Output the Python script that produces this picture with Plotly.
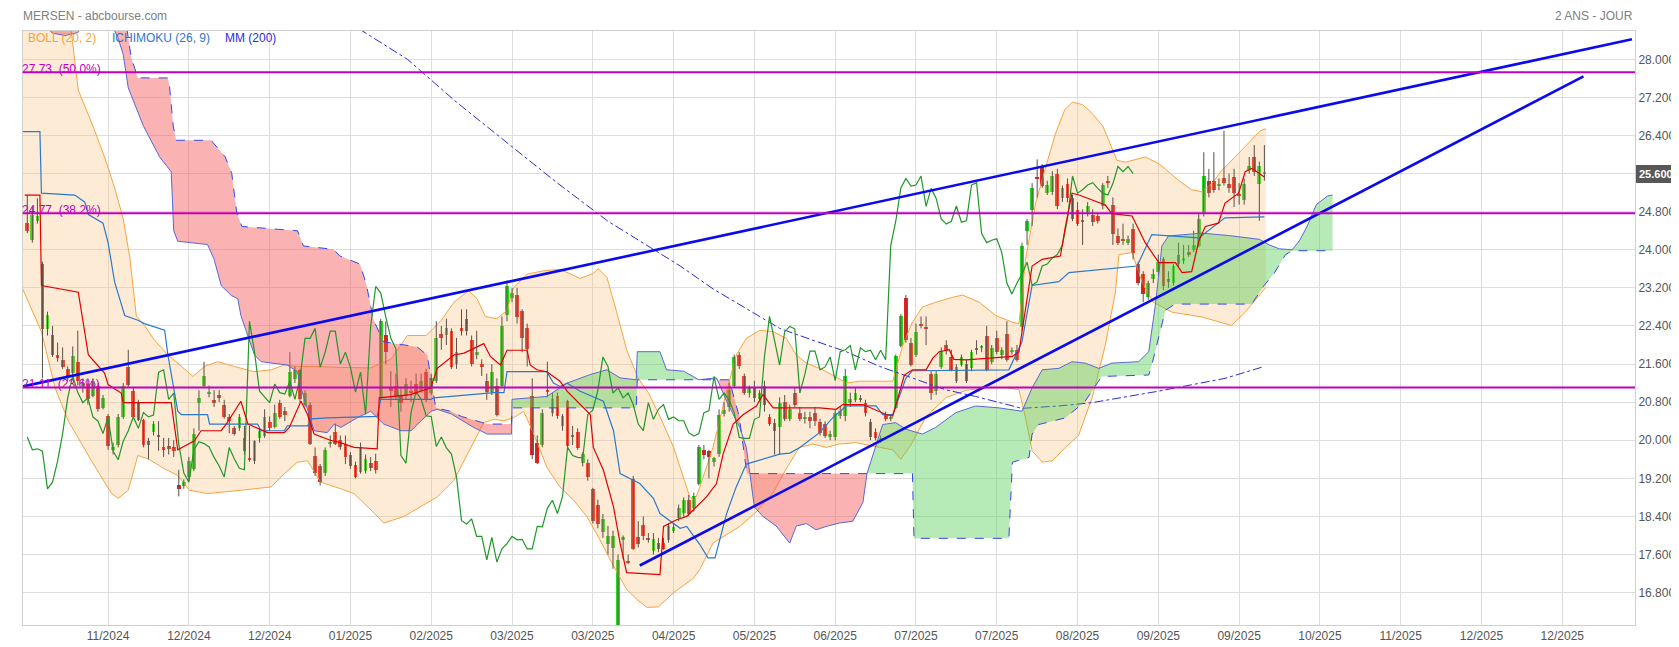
import plotly.graph_objects as go

# ---------------- candles (index = trading day) ----------------
opens = [24.56,24.20,24.60,23.70,22.34,22.21,21.79,21.69,21.50,21.41,
21.64,21.15,21.18,20.92,21.13,20.68,20.50,19.79,19.89,20.49,
21.53,21.04,20.79,20.43,19.99,20.18,20.08,19.85,19.87,19.85,
19.07,19.03,19.23,19.39,20.79,21.13,20.99,20.84,20.94,20.75,
20.49,20.25,20.25,20.04,19.60,19.56,20.04,20.08,20.39,20.28,
20.79,20.61,20.92,21.28,21.48,20.75,20.75,19.66,19.45,19.31,
19.92,20.18,20.00,19.92,19.68,19.49,19.33,19.35,19.52,19.56,
20.89,22.21,21.10,21.13,20.92,20.92,21.02,21.18,21.03,21.43,
21.00,21.24,22.24,22.21,22.29,21.60,22.35,22.54,22.10,21.80,
21.60,21.25,21.01,21.13,21.15,22.64,22.98,23.06,22.71,22.35,
20.92,19.95,19.89,21.03,20.58,20.92,20.29,20.82,20.08,20.18,
19.52,19.52,18.98,18.64,18.08,17.83,17.74,15.15,17.90,17.45,
19.19,17.96,18.22,17.94,17.67,17.85,17.85,17.90,18.10,18.36,
18.48,18.75,18.58,19.09,19.80,19.78,19.54,19.71,20.55,20.70,
21.13,21.79,21.35,20.99,21.10,20.86,21.13,20.49,20.37,20.28,
20.80,20.45,20.99,20.58,20.44,20.49,20.58,20.39,20.34,20.06,
20.07,20.51,20.51,20.79,20.84,20.89,20.79,20.39,20.18,19.99,
20.56,20.44,20.68,21.99,22.99,22.05,21.79,22.45,22.35,21.39,
21.04,21.53,22.00,21.75,21.25,21.58,21.60,21.51,21.92,21.94,
22.19,21.65,22.14,21.79,22.24,21.86,21.89,22.38,24.39,24.84,
25.52,25.74,25.20,25.22,25.60,25.08,25.39,25.08,24.84,24.62,
24.78,24.74,24.70,24.91,25.44,24.94,24.30,24.23,24.15,24.44,
23.70,23.49,23.00,23.38,23.54,23.80,23.38,23.31,23.90,23.77,
23.95,24.00,24.09,24.78,25.44,25.44,25.35,25.50,25.39,25.53,
25.18,25.05,25.68,25.95,25.39,25.60]
closes = [24.40,24.74,24.70,22.34,22.64,21.79,21.73,21.53,21.33,21.78,
21.24,21.20,20.86,21.25,20.65,20.89,19.87,19.86,20.49,21.13,
21.17,20.49,20.43,19.89,19.89,20.34,20.07,19.80,19.82,19.77,
18.98,19.12,19.56,20.14,20.89,21.35,21.00,20.79,20.89,20.49,
20.40,20.14,20.49,19.77,19.59,19.98,20.20,20.49,20.25,20.58,
20.49,20.53,21.43,21.48,20.86,20.99,19.92,19.31,19.12,19.80,
19.97,19.93,19.86,19.64,19.46,19.23,19.85,19.61,19.41,19.38,
22.50,21.85,21.03,20.92,20.79,21.18,21.00,20.97,21.24,20.86,
21.30,22.14,22.14,22.35,21.53,21.85,22.29,22.29,21.60,21.85,
21.53,21.01,21.43,20.54,22.39,23.23,23.09,22.59,22.14,21.92,
19.68,19.52,20.58,21.02,20.86,20.51,20.50,19.87,20.07,19.84,
19.71,19.23,18.31,18.24,18.35,17.98,17.98,17.49,17.96,17.44,
17.72,17.83,17.98,17.91,17.92,17.72,17.72,18.19,18.18,18.57,
18.74,18.46,18.82,19.85,19.68,19.64,19.63,20.54,20.63,21.05,
21.75,21.55,20.99,21.10,20.89,20.99,20.75,20.34,20.20,20.79,
20.44,20.65,20.75,20.44,20.49,20.41,20.41,20.16,20.09,20.14,
20.58,20.62,21.34,20.86,20.99,20.84,20.58,20.06,20.04,20.04,
20.44,20.49,21.76,22.60,22.10,21.58,22.28,22.39,22.34,20.99,
21.39,21.87,21.87,21.48,21.54,21.75,21.25,21.86,21.90,21.99,
21.48,21.94,21.86,21.89,21.69,21.89,21.69,24.09,24.60,25.30,
25.50,25.34,25.36,25.55,24.91,25.29,25.08,24.65,24.54,24.60,
24.92,24.58,24.61,25.36,25.41,24.34,24.15,24.20,24.23,23.94,
23.30,23.07,23.30,23.49,23.74,23.25,23.33,23.66,23.70,23.83,
23.90,24.10,24.65,25.55,25.19,25.26,25.36,25.41,25.29,25.19,
25.15,25.39,25.75,25.64,25.75,25.60]
highs = [25.15,24.90,25.08,23.75,22.70,22.40,22.05,21.95,21.55,21.97,
22.30,21.30,21.30,21.30,21.20,20.95,20.55,19.95,20.55,21.20,
21.90,21.10,20.85,20.45,20.05,20.40,20.40,20.05,20.05,20.00,
19.38,19.18,19.65,20.25,21.05,21.65,21.15,21.05,21.05,20.85,
20.55,20.30,20.55,20.30,20.30,20.00,20.25,20.65,20.50,20.75,
20.85,20.70,21.85,21.55,21.50,21.05,20.80,19.85,19.50,19.85,
20.10,20.35,20.10,20.10,19.75,19.55,19.95,19.70,19.65,19.72,
22.55,22.50,21.45,21.40,21.10,21.30,21.25,21.40,21.40,21.50,
21.40,22.50,22.40,22.55,22.35,22.15,22.75,22.75,22.20,22.30,
21.70,21.40,21.60,21.30,22.60,23.35,23.20,23.20,22.75,22.45,
21.30,20.10,20.65,21.65,21.00,21.00,20.55,20.85,20.30,20.25,
19.75,19.60,19.00,18.75,18.45,18.20,18.10,17.60,18.00,17.60,
19.25,18.30,18.40,18.05,18.05,17.95,17.95,18.25,18.25,18.65,
18.80,18.85,18.90,19.90,19.90,19.80,19.65,20.65,20.80,21.20,
21.80,21.85,21.40,21.15,21.25,21.05,21.25,20.55,20.45,20.90,
20.95,20.75,21.10,20.70,20.60,20.60,20.70,20.45,20.40,20.20,
20.65,20.70,21.50,21.00,21.10,20.95,20.85,20.45,20.25,20.10,
20.60,20.55,21.80,22.65,23.05,22.15,22.45,22.60,22.60,21.45,
21.45,21.95,22.10,21.90,21.60,21.80,21.70,21.90,22.10,22.00,
22.40,22.00,22.30,21.95,22.50,21.95,22.00,24.15,24.65,25.40,
25.90,25.80,25.45,25.65,25.70,25.35,25.50,25.15,25.00,24.85,
25.00,24.85,24.75,25.40,25.55,25.10,24.45,24.55,24.30,24.55,
23.75,23.55,23.35,23.60,23.90,23.85,23.55,23.70,24.15,24.10,
24.10,24.40,24.75,26.05,25.70,26.05,25.50,26.50,25.60,25.70,
25.40,25.50,25.95,26.20,25.85,26.20]
lows = [24.35,24.15,24.55,21.30,22.20,21.75,21.65,21.50,21.25,21.35,
21.15,21.00,20.75,20.90,20.60,20.65,19.80,19.70,19.85,20.45,
21.10,20.45,20.40,19.85,19.60,20.10,19.78,19.65,19.70,19.65,
18.82,18.98,19.15,19.35,20.20,21.10,20.90,20.70,20.80,20.45,
20.15,20.10,20.20,19.70,19.55,19.50,19.95,20.05,20.20,20.25,
20.45,20.40,20.90,21.20,20.80,20.70,19.90,19.25,19.05,19.25,
19.85,19.90,19.80,19.50,19.40,19.20,19.30,19.30,19.35,19.30,
20.85,21.60,20.70,20.85,20.60,20.85,20.80,20.95,21.00,20.80,
20.95,21.20,21.90,22.00,21.50,21.50,22.20,22.20,21.55,21.70,
21.35,20.85,20.95,20.50,21.10,22.50,22.90,22.45,21.85,21.55,
19.60,19.50,19.85,20.90,20.50,20.45,20.20,19.80,19.90,19.80,
19.45,19.15,18.25,18.15,17.95,17.60,17.30,15.10,17.50,17.40,
17.70,17.75,17.90,17.85,17.60,17.65,17.70,17.85,18.05,18.30,
18.40,18.40,18.50,19.05,19.60,19.20,19.45,19.65,20.50,20.60,
21.10,21.50,20.95,20.90,20.80,20.80,20.60,20.30,19.70,19.70,
20.40,20.40,20.70,20.40,20.35,20.25,20.30,20.10,20.05,20.00,
20.00,20.45,20.40,20.70,20.80,20.80,20.50,20.00,20.00,19.95,
20.40,20.40,20.65,21.95,22.05,21.55,21.75,22.35,22.00,20.85,
20.95,21.50,21.80,21.45,21.20,21.55,21.20,21.45,21.80,21.85,
21.45,21.60,21.80,21.70,21.65,21.80,21.65,22.30,24.10,24.50,
25.10,25.30,25.15,25.15,24.85,25.00,25.00,24.60,24.50,24.10,
24.70,24.50,24.55,24.85,25.30,24.10,24.10,24.10,24.10,23.80,
23.25,22.90,22.95,23.30,23.45,23.15,23.20,23.25,23.65,23.70,
23.85,23.95,24.05,24.70,25.10,25.20,25.25,25.35,25.20,24.90,
24.95,24.95,25.60,25.55,24.61,25.45]

# ---------------- axis labels ----------------
tick_pos = [16,32,48,64,80,96,112,128,144,160,176,192,208,224,240,256,272,288,304]
tick_labels = ["11/2024","12/2024","12/2024","01/2025","02/2025","03/2025","03/2025",
               "04/2025","05/2025","06/2025","07/2025","07/2025","08/2025","09/2025",
               "09/2025","10/2025","11/2025","12/2025","12/2025"]
y_ticks = [16.8,17.6,18.4,19.2,20.0,20.8,21.6,22.4,23.2,24.0,24.8,25.6,26.4,27.2,28.0]
last_price = 25.60

# ---------------- Bollinger (20,2) ----------------
bb_up_x = [-1,8.7,10.1,13,15.3,17.3,19,20.3,21.6,23.2,25.2,27.9,30.2,32.8,35.1,37.7,41,44.9,48.3,50.9,
53.5,57,62,68,72,75.3,79,82,84.5,87.4,89.1,90.7,93,95,96.3,99,102.3,105.5,109.5,112,
113.1,114.8,116.7,118.7,121,123,125.3,128,131.2,132.2,133.2,135.8,138.5,140.4,142.4,145.1,147.7,150.3,152.3,154.3,
156.9,159.5,162.2,164.8,168.8,171.4,173.4,175.3,177.3,180,183.2,185.2,188.5,191.8,195.1,196.4,197.7,199.7,201.7,203.6,
205.5,207,209,211,213,214.2,215.8,217.5,221.4,224.1,228,230.6,232.6,234.6,236.6,239.2,241.8,244.2,245.3]
bb_up_y = [29.8,28.6,27.35,26.6,25.95,25.3,24.65,23.84,22.6,22.41,22.10,21.79,21.58,21.34,21.55,21.65,21.55,21.44,21.48,21.58,
21.55,21.55,21.53,21.52,21.7,22.2,22.2,22.52,22.9,23.14,22.97,22.6,22.55,22.73,23.2,23.49,23.56,23.59,23.4,23.5,
23.6,23.42,22.7,21.9,21.3,21.0,20.5,19.85,18.81,18.74,19.02,19.85,21.03,21.79,22.14,22.31,22.28,22.14,21.79,21.62,
21.51,21.37,21.2,21.24,21.24,21.24,22.0,22.48,22.8,22.9,23.0,23.05,22.9,22.62,22.48,22.45,23.8,24.98,25.74,26.43,
26.95,27.1,27.05,26.85,26.6,26.3,25.88,25.84,25.95,25.81,25.46,25.26,25.22,25.39,25.67,25.95,26.23,26.5,26.54]
bb_lo_x = [-1,2.8,5.5,8.1,12.7,16.7,18,20,21.9,23.9,27.2,29.8,32.1,35.7,42.3,48.3,50.9,53.5,55.5,58.1,
62.1,64.7,68.7,70.6,74.6,77.9,81.2,84.5,86.5,88.4,90.4,92.4,94.4,96.3,98.3,100.3,102.9,105.5,108.2,110.8,
113.4,116.1,118.7,120.7,122.7,125,128,131.9,133.2,135.8,141.1,144.4,147.7,150.3,152.9,155.6,158.2,160.8,164.1,168.8,
171.4,173,175,178,182,186,190,194,196.4,197.7,199,201,203,205.6,208.2,210.9,213.5,215.5,216.2,218.8,
220.8,223,226.7,232.6,238.5,241.2,245.3]
bb_lo_y = [23.2,22.28,21.1,20.41,19.57,18.88,18.78,18.95,19.68,19.61,19.40,19.26,18.95,18.88,18.95,19.02,19.3,19.54,19.57,19.12,
18.98,18.88,18.47,18.26,18.40,18.60,18.81,19.16,19.57,19.99,20.37,20.44,20.41,20.47,20.61,20.13,19.43,19.02,18.74,18.40,
17.91,17.36,16.87,16.66,16.49,16.5,16.8,17.1,17.29,17.84,18.19,18.5,18.9,19.4,19.85,19.92,19.85,19.92,19.95,19.85,
19.8,19.6,19.9,20.5,20.9,21.05,21.1,21.1,21.06,20.47,19.78,19.54,19.57,19.85,20.1,20.9,22.0,23.11,23.9,23.94,
23.31,22.9,22.69,22.59,22.41,22.69,23.21]

# ---------------- Ichimoku (26, 9) ----------------
tenkan_x = [-0.5,2.5,2.8,10.1,12.1,15.3,16,18.6,19,28.5,29.8,33.1,34.4,38.4,39.4,42.3,43.7,47.6,50.9,51.9,
54.2,55.5,56.8,60,62,64.7,69.3,69.7,75.9,79.9,81.2,84.5,86.5,88.4,90.4,91.7,93.7,95,99,99.6,
100.9,102.9,105.5,106.9,109.5,111.5,112.1,114.1,116.1,117.4,118.7,125.3,126,128.6,130.6,132.5,134.5,136.5,137.8,139.8,
141.8,144.4,145.7,147.7,156.9,160.2,161.5,165.5,170.1,171.4,173.7,175.3,178,179.3,180.6,182.6,183.5,186,195.1,196.4,
199,201,204.6,205.6,206.9,208.3,213.5,214.8,218.8,221.4,224.1,227.4,228.7,230.6,232,233.3,235.9,237.2,239.9,241.2,
242.5,245]
tenkan_y = [25.15,25.15,23.25,23.11,21.79,21.41,21.17,20.99,20.79,20.79,19.8,19.99,20.2,20.2,20.34,20.82,20.34,20.16,20.16,20.27,
20.82,20.54,20.13,20.0,19.95,19.85,19.82,20.89,20.96,21.1,21.51,21.79,21.83,21.93,22.03,21.76,21.58,21.89,21.89,21.58,
21.48,21.44,21.24,21.03,20.75,20.54,19.85,19.37,18.6,17.84,17.22,17.18,18.19,18.33,18.4,18.6,18.81,19.09,19.71,20.34,
20.54,20.72,20.96,20.68,20.68,20.65,20.75,20.75,20.54,20.51,21.37,21.48,21.48,21.72,21.86,21.9,21.7,21.69,21.76,21.86,
23.66,23.8,23.87,24.49,25.19,25.15,24.94,24.76,24.71,24.15,23.73,23.73,23.52,23.54,24.18,24.49,24.56,24.98,25.19,25.64,
25.71,25.53]
kijun_x = [-1,2.5,2.8,9.4,11.4,12.1,15,16,17.3,19.3,21.9,23.2,27.2,27.85,29.8,30.5,35.7,36.1,45.6,46.3,
50.9,51.5,55.5,56.2,59.5,69.3,70,79.9,80.5,92.4,94.4,95,102.9,104.2,105.5,106.9,109.5,114.1,116.1,117.4,
121.3,124,125.3,129.3,130.6,133.2,134.8,136.2,138.5,140.4,142.4,147.7,149,151,153,156.9,159.5,162.2,168.1,169.4,
171.4,174,175.3,194.4,197,199,204.3,206.3,219.8,222.7,232,237.2,245]
kijun_y = [26.48,26.48,25.19,25.15,25.0,24.74,24.56,24.15,23.32,22.62,22.52,22.45,22.31,21.79,20.61,20.54,20.54,20.34,20.34,20.2,
20.2,20.3,20.3,20.45,20.47,20.5,20.86,20.86,20.89,21.0,21.0,21.44,21.44,21.2,21.13,21.2,21.03,20.82,20.2,19.3,
19.09,18.78,18.46,18.15,18.19,17.81,17.53,17.53,18.46,19.02,19.5,19.68,19.71,19.73,19.85,20.16,20.47,20.72,20.72,20.54,
20.54,21.3,21.46,21.48,22.07,23.25,23.33,23.52,23.66,24.32,24.25,24.67,24.69]
chikou_shift = 26

span_a_x = [-1,3,5,7.5,10,11,13,17.3,18,19,20,23,26.2,28.5,29.0,29.8,35.7,37,38.4,40.4,
41.7,42.3,45,46.3,51.5,53.5,54.2,55.8,56.8,59.4,60.8,62.1,65.3,68,69.3,70.6,74,76,78,80,
81.2,84,88.4,91.1,95.9,96.0,102.9,106.9,111.5,114.8,117.4,120.6,120.8,125.3,126.6,130,133.0,136.5,138.5,141.1,
142.4,143.1,144,145.7,148.3,151,152.3,154.3,156.2,158.2,160.8,163.5,165.5,166.3,168.7,169.4,172,174,177.3,179.9,
183.9,187.8,192.4,197,199,201,204.3,206.9,209.5,212.2,214.8,220.1,222.1,223.4,224.7,226,232.6,237.9,244,246,
248,250.5,252,253.5,255.3,257.5,258.5]
span_a_y = [29.3,28.75,28.55,28.5,28.56,28.7,28.9,28.6,28.44,28.1,27.4,26.6,25.95,25.64,24.4,24.18,24.11,23.8,23.25,23.04,
22.97,22.62,21.79,21.65,21.58,21.44,21.1,20.54,20.2,20.16,20.34,20.27,20.47,20.61,20.47,20.34,20.2,20.2,20.41,20.61,
20.65,20.55,20.27,20.13,20.13,20.86,20.92,21.2,21.38,21.48,21.31,21.27,21.86,21.86,21.48,21.45,21.27,21.31,20.82,20.27,
19.85,19.3,18.6,18.4,18.2,17.84,18.2,18.25,18.12,18.19,18.26,18.3,18.7,19.3,20.13,20.33,20.37,20.23,20.13,20.27,
20.58,20.72,20.68,20.61,21.10,21.48,21.51,21.65,21.62,21.51,21.62,21.65,21.86,22.83,24.08,24.29,24.35,24.3,24.22,24.1,
24.02,24.0,24.2,24.5,24.95,25.13,25.15]
span_b_x = [-1,14,19.5,20.6,21.9,27.85,28.2,28.9,29.5,36.4,39.2,40.5,41.5,42.5,53.5,54.7,60.6,61.9,65.9,67.2,
68.5,70.5,77.2,79.2,80.9,83.8,86,91.1,95.9,96.0,120.6,120.8,133.0,139,141,142.5,166.3,175.3,175.6,194.4,
195.1,198.4,199,200.3,205.6,209.5,212.8,222.1,222.7,224.7,225.4,227.3,242.5,244.8,246.9,249.2,250.5,258.5]
span_b_y = [29.5,29.5,28.8,28.03,27.61,27.61,27.4,26.6,26.3,26.3,25.95,25.6,24.77,24.49,24.4,24.08,24.01,23.87,23.7,23.25,
22.55,22.07,21.96,21.79,20.68,20.61,20.5,20.34,20.34,20.68,20.68,21.27,21.27,21.27,20.5,19.3,19.3,19.3,17.94,17.94,
19.54,19.64,20.13,20.33,20.47,20.82,21.34,21.37,21.58,22.41,22.73,22.86,22.86,23.23,23.5,23.9,23.98,23.98]
# cloud regions between crossings: (start, end, bullish?)
cloud_regions = [(-1, 95.9, False), (96.0, 133.0, True), (133.0, 166.3, False), (166.3, 258.5, True)]

# ---------------- MM 200 ----------------
mm200_x = [60,66,75.3,85,95,105,115,121,126,129.3,135.8,142.4,149,155.6,162.2,168.8,175.3,181.9,187.8,197,
204.3,210.9,224,237.2,245]
mm200_y = [29.1,28.62,28.0,27.1,26.25,25.4,24.6,24.2,23.87,23.66,23.18,22.76,22.35,22.1,21.86,21.55,21.3,21.06,20.92,20.67,
20.72,20.79,21.03,21.3,21.55]

# ---------------- drawn objects ----------------
fib_levels = [27.73, 24.77, 21.11]
fib_labels = ["27.73\u00a0\u00a0(50.0%)", "24.77\u00a0\u00a0(38.2%)", "21.11\u00a0\u00a0(23.6%)"]
trend_up_x = [-0.85, 317.8]
trend_up_y = [21.13, 28.42]
trend_lo_x = [121.3, 308.2]
trend_lo_y = [17.37, 27.64]

FONT = "Liberation Sans, Arial, sans-serif"
GREEN = "#1fdc1f"
RED = "#f01e1e"

fig = go.Figure()

# Bollinger band
fig.add_trace(go.Scatter(x=bb_lo_x, y=bb_lo_y, mode="lines", line=dict(color="#f7a540", width=1),
                         hoverinfo="skip", showlegend=False))
fig.add_trace(go.Scatter(x=bb_up_x, y=bb_up_y, mode="lines", line=dict(color="#f7a540", width=1),
                         fill="tonexty", fillcolor="rgba(250,190,120,0.30)", hoverinfo="skip", showlegend=False))

# MM200
fig.add_trace(go.Scatter(x=mm200_x, y=mm200_y, mode="lines", line=dict(color="#2b2bdc", width=1, dash="dashdot"),
                         hoverinfo="skip", showlegend=False))

# candles: wicks then bodies
n = len(closes)
idx = list(range(n))
wx, wy = [], []
for i in idx:
    wx += [i, i, None]
    wy += [lows[i], highs[i], None]
fig.add_trace(go.Scatter(x=wx, y=wy, mode="lines", line=dict(color="#5a4f45", width=1),
                         hoverinfo="skip", showlegend=False))
bases = [min(o, c) for o, c in zip(opens, closes)]
heights = [max(abs(c - o), 0.025) for o, c in zip(opens, closes)]
colors = [GREEN if c >= o else RED for o, c in zip(opens, closes)]
fig.add_trace(go.Bar(x=idx, y=heights, base=bases, width=0.74, marker=dict(color=colors, line=dict(width=0)),
                     hoverinfo="skip", showlegend=False))

# Ichimoku cloud fills (drawn over candles, translucent)
for x0, x1, bull in cloud_regions:
    ax = [x for x in span_a_x if x0 <= x <= x1]
    ay = [y for x, y in zip(span_a_x, span_a_y) if x0 <= x <= x1]
    bx = [x for x in span_b_x if x0 <= x <= x1]
    by = [y for x, y in zip(span_b_x, span_b_y) if x0 <= x <= x1]
    fig.add_trace(go.Scatter(x=ax + bx[::-1], y=ay + by[::-1], mode="lines", line=dict(width=0),
                             fill="toself",
                             fillcolor="rgba(80,205,80,0.42)" if bull else "rgba(245,85,85,0.45)",
                             hoverinfo="skip", showlegend=False))
fig.add_trace(go.Scatter(x=span_a_x, y=span_a_y, mode="lines", line=dict(color="#5a68d6", width=1),
                         hoverinfo="skip", showlegend=False))
fig.add_trace(go.Scatter(x=span_b_x, y=span_b_y, mode="lines", line=dict(color="#3448ee", width=1, dash="dash"),
                         hoverinfo="skip", showlegend=False))

# chikou, kijun, tenkan
fig.add_trace(go.Scatter(x=[i - chikou_shift for i in idx[chikou_shift:]], y=closes[chikou_shift:], mode="lines",
                         line=dict(color="#21972a", width=1.2), hoverinfo="skip", showlegend=False))
fig.add_trace(go.Scatter(x=kijun_x, y=kijun_y, mode="lines", line=dict(color="#2a7acb", width=1.2),
                         hoverinfo="skip", showlegend=False))
fig.add_trace(go.Scatter(x=tenkan_x, y=tenkan_y, mode="lines", line=dict(color="#e00000", width=1.2),
                         hoverinfo="skip", showlegend=False))

# trend lines
fig.add_trace(go.Scatter(x=trend_up_x, y=trend_up_y, mode="lines", line=dict(color="#0a0af0", width=2.6),
                         hoverinfo="skip", showlegend=False))
fig.add_trace(go.Scatter(x=trend_lo_x, y=trend_lo_y, mode="lines", line=dict(color="#0a0af0", width=2.6),
                         hoverinfo="skip", showlegend=False))

shapes = []
annotations = []
for lvl, lab in zip(fib_levels, fib_labels):
    shapes.append(dict(type="line", xref="paper", x0=0, x1=1, yref="y", y0=lvl, y1=lvl,
                       line=dict(color="#c000c0", width=2), layer="above"))
    annotations.append(dict(xref="paper", x=0, xanchor="left", xshift=-2, yref="y", y=lvl, yanchor="bottom",
                            yshift=-5, text=lab, showarrow=False, borderpad=0,
                            font=dict(family=FONT, size=12, color="#c000c0")))

annotations += [
    dict(xref="paper", yref="paper", x=0, y=1, xanchor="left", yanchor="middle", xshift=-2, yshift=15,
         text="MERSEN - abcbourse.com", showarrow=False, font=dict(family=FONT, size=12, color="#808080")),
    dict(xref="paper", yref="paper", x=1, y=1, xanchor="right", yanchor="middle", xshift=0, yshift=15,
         text="2 ANS - JOUR", showarrow=False, font=dict(family=FONT, size=12, color="#808080")),
    dict(xref="paper", yref="paper", x=0, y=1, xanchor="left", yanchor="middle", xshift=3, yshift=-7,
         text="BOLL (20, 2)", showarrow=False, font=dict(family=FONT, size=12, color="#f5a23f")),
    dict(xref="paper", yref="paper", x=0, y=1, xanchor="left", yanchor="middle", xshift=87, yshift=-7,
         text="ICHIMOKU (26, 9)", showarrow=False, font=dict(family=FONT, size=12, color="#2a7acb")),
    dict(xref="paper", yref="paper", x=0, y=1, xanchor="left", yanchor="middle", xshift=200, yshift=-7,
         text="MM (200)", showarrow=False, font=dict(family=FONT, size=12, color="#2b2bdc")),
    dict(xref="paper", x=1, xanchor="left", xshift=1, yref="y", y=last_price, yanchor="middle",
         text="<b>%.3f</b>" % last_price, showarrow=False, bgcolor="#575757", borderpad=3, borderwidth=0,
         font=dict(family=FONT, size=11, color="white")),
]

# the last-price box replaces the 25.600 tick label (gridline kept)
y_ticktext = ["" if abs(v - last_price) < 1e-9 else "%.3f" % v for v in y_ticks]

fig.update_layout(
    width=1679, height=647,
    margin=dict(l=15, r=48, t=23, b=24),
    paper_bgcolor="white", plot_bgcolor="white",
    showlegend=False, bargap=0,
    font=dict(family=FONT, size=12, color="#555555"),
    shapes=shapes, annotations=annotations,
    xaxis=dict(range=[-0.85, 318.4], tickmode="array", tickvals=tick_pos, ticktext=tick_labels,
               showgrid=True, gridcolor="#dedede", gridwidth=1, zeroline=False,
               showline=True, linecolor="#d0d0d0", mirror=True, ticks="",
               tickfont=dict(family=FONT, size=12, color="#555555")),
    yaxis=dict(range=[16.12, 28.595], side="right", tickmode="array", tickvals=y_ticks,
               ticktext=y_ticktext,
               showgrid=True, gridcolor="#dedede", gridwidth=1, zeroline=False,
               showline=True, linecolor="#d0d0d0", mirror=True, ticks="",
               tickfont=dict(family=FONT, size=12, color="#555555")),
)

fig.write_html("out.html")
